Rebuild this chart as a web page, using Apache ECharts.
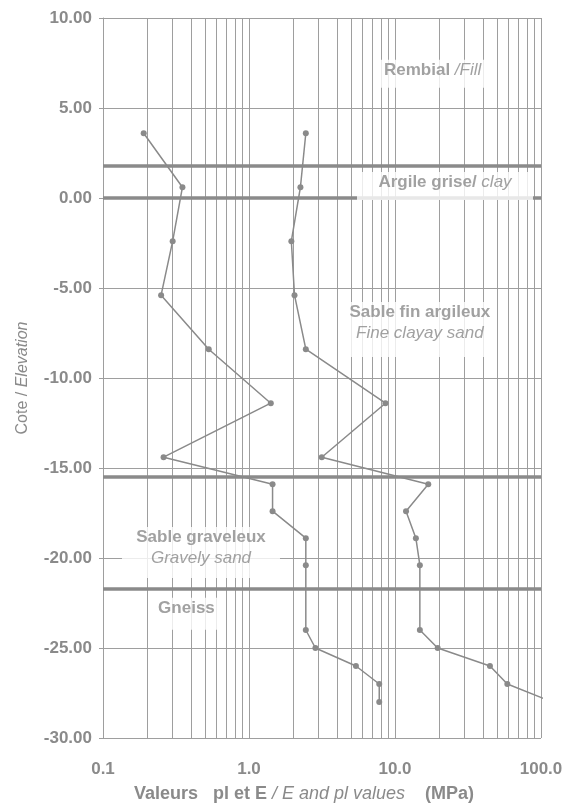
<!DOCTYPE html>
<html><head><meta charset="utf-8">
<script src="https://cdn.jsdelivr.net/npm/echarts@6/dist/echarts.min.js"></script>
<style>html,body{margin:0;padding:0;background:#fff}#c{width:571px;height:805px}</style>
</head><body><div id="c"></div>
<script>
// ---- data ----
const depths   = [3.6, 0.6, -2.4, -5.4, -8.4, -11.4, -14.4, -15.9, -17.4, -18.9, -20.4, -24.0, -25.0, -26.0, -27.0, -28.0];
const plValues = [0.19, 0.35, 0.30, 0.25, 0.53, 1.41, 0.26, 1.45, 1.45, 2.45, 2.45, 2.45, 2.85, 5.4, 7.8, 7.8];
const eValues  = [2.45, 2.25, 1.95, 2.05, 2.45, 8.6, 3.15, 16.9, 11.9, 13.9, 14.8, 14.8, 19.6, 44.7, 58.8, 120];
const minorGridValues = [0.2,0.3,0.4,0.5,0.6,0.7,0.8,0.9, 2,3,4,5,6,7,8,9, 20,30,40,50,60,70,80,90];
const layerBoundaries = [1.8, 0.0, -15.5, -21.7];
const layerNames = [
  {text:'{b|Rembial }{i|/Fill}', at:[18.1, 6.9]},
  {text:'{b|Argile grise/}{i| clay}', at:[22.0, 0.67]},
  {text:'{b|Sable fin argileux}\n{i|Fine clayay sand}', at:[14.8, -7.3]},
  {text:'{b|Sable graveleux}\n{i|Gravely sand}', at:[0.469, -19.7]},
  {text:'{b|Gneiss}', at:[0.373, -23.1]}
];
const boxSizes = [[109,28],[176,28],[154,55],[158,51],[73,32]];

const FONT = '"Liberation Sans", Arial, sans-serif';
const GREY = '#8a8a8a';
const GRID = '#9e9e9e';
const rich = {
  b:{fontFamily:FONT,fontWeight:'bold',fontSize:17,color:GREY,lineHeight:21},
  i:{fontFamily:FONT,fontStyle:'italic',fontSize:17,color:GREY,lineHeight:21}
};

const chart = echarts.init(document.getElementById('c'));
chart.setOption({
  animation:false,
  backgroundColor:'#fff',
  grid:{left:103, right:30, top:18, bottom:67, containLabel:false, outerBoundsMode:'none'},
  xAxis:{
    type:'log', logBase:10, min:0.1, max:100,
    axisLine:{show:true,lineStyle:{color:GRID}},
    axisTick:{show:true,length:4,lineStyle:{color:GRID}},
    splitLine:{show:true,lineStyle:{color:GRID,width:1}},
    axisLabel:{fontFamily:FONT,fontWeight:'bold',fontSize:17,color:GREY,margin:23,
      formatter:v=>Number(v).toFixed(1)},
    name:'{b|Valeurs   pl et E }{i|/ E and pl values}{b|    (MPa)}',
    nameLocation:'middle', nameGap:47,
    nameTextStyle:{padding:[0,36,0,0], rich:{
      b:{fontFamily:FONT,fontWeight:'bold',fontSize:18,color:GREY},
      i:{fontFamily:FONT,fontStyle:'italic',fontSize:18,color:GREY}}}
  },
  yAxis:{
    type:'value', min:-30, max:10, interval:5,
    axisLine:{show:true,lineStyle:{color:GRID}},
    axisTick:{show:true,length:4,lineStyle:{color:GRID}},
    splitLine:{show:true,lineStyle:{color:GRID,width:1}},
    axisLabel:{fontFamily:FONT,fontWeight:'bold',fontSize:17,color:GREY,margin:11,
      formatter:v=>v.toFixed(2)},
    name:'{n|Cote / }{i|Elevation}', nameLocation:'middle', nameGap:72, nameRotate:90,
    nameTextStyle:{rich:{
      n:{fontFamily:FONT,fontSize:16,color:GREY},
      i:{fontFamily:FONT,fontStyle:'italic',fontSize:16,color:GREY}}}
  },
  series:[
    {
      type:'line', data:[], z:1, silent:true,
      markLine:{
        z:1, silent:true, symbol:['none','none'], label:{show:false},
        data: minorGridValues.map(v=>({xAxis:v, lineStyle:{color:GRID,width:1,type:'solid'}}))
          .concat(layerBoundaries.map(v=>({yAxis:v, lineStyle:{color:GREY,width:3.5,type:'solid'}})))
      }
    },
    {
      type:'scatter', z:3, silent:true, symbolSize:0,
      data: layerNames.map((l,k)=>({
        value:l.at,
        label:{show:true, position:'inside', formatter:l.text, rich:rich,
          width:boxSizes[k][0], height:boxSizes[k][1], align:'center', verticalAlign:'middle',
          backgroundColor:'#fff', padding:0}
      }))
    },
    {
      type:'line', name:'pl', z:5, clip:true,
      data: depths.map((d,i)=>[plValues[i], d]),
      symbol:'circle', symbolSize:6,
      itemStyle:{color:GREY}, lineStyle:{color:GREY,width:1.5}
    },
    {
      type:'line', name:'E', z:5, clip:true,
      data: depths.map((d,i)=>[eValues[i], d]),
      symbol:'circle', symbolSize:6,
      itemStyle:{color:GREY}, lineStyle:{color:GREY,width:1.5}
    }
  ]
});
</script></body></html>
